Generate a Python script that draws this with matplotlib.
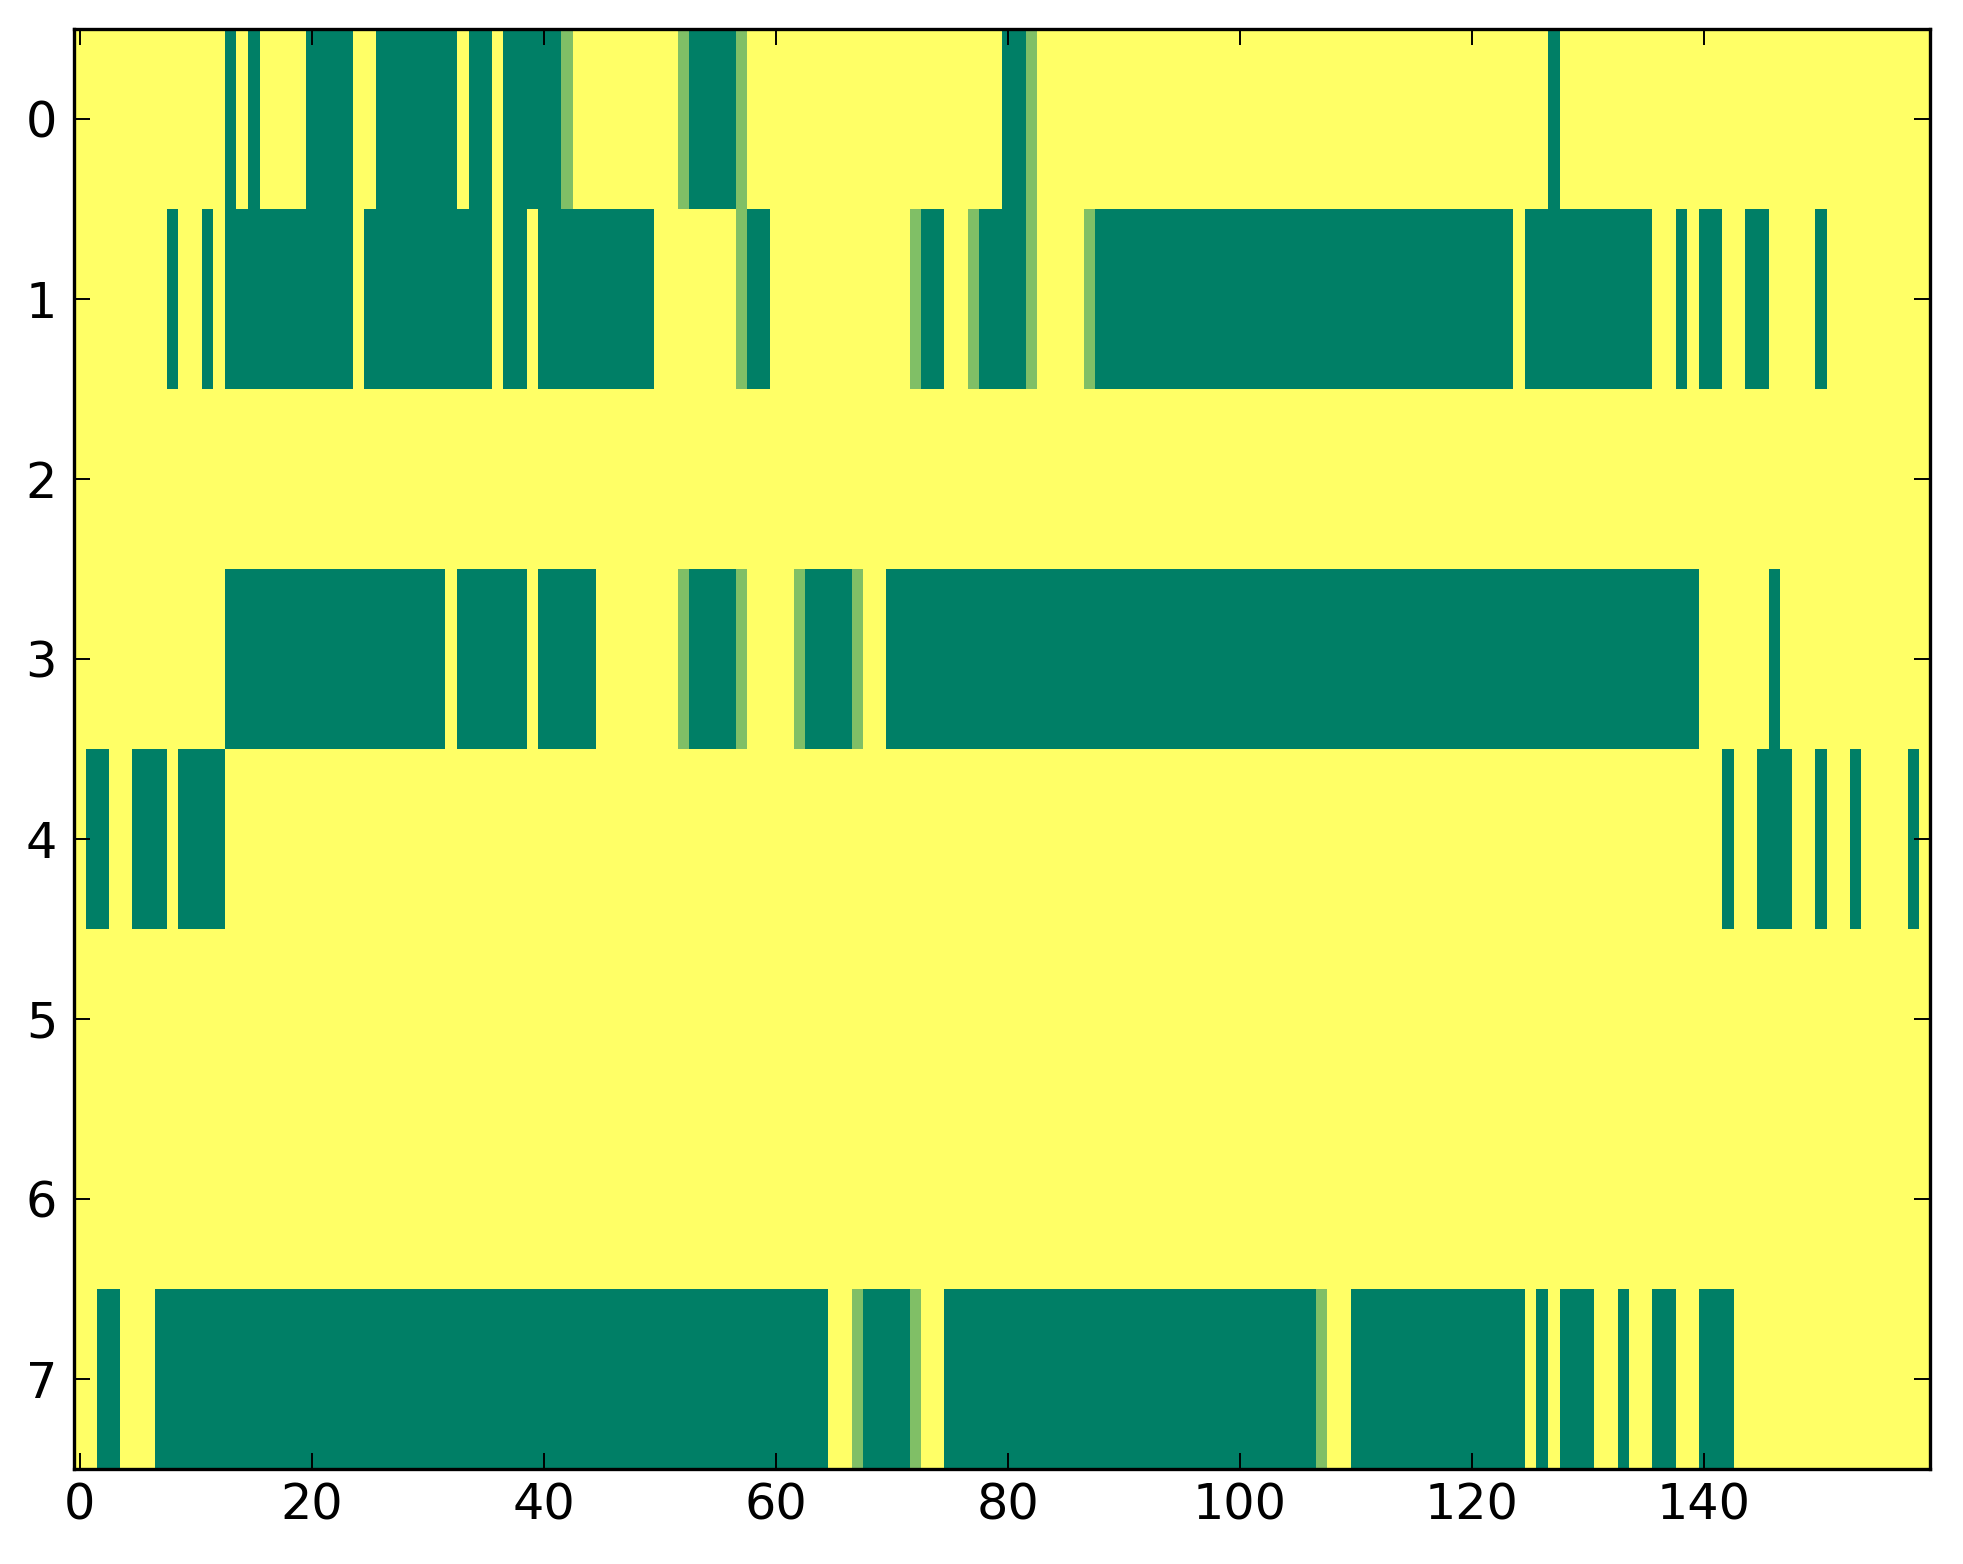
import numpy as np
import matplotlib
matplotlib.use("Agg")
import matplotlib.pyplot as plt
from matplotlib.ticker import MultipleLocator

n_rows = 8
n_cols = 160

# runs of columns (first, last) that are 0 (dark green) in each row
row0_zero = [(13, 13), (15, 15), (20, 23), (26, 32), (34, 35), (37, 41), (53, 56), (80, 81), (127, 127)]
row1_zero = [(8, 8), (11, 11), (13, 23), (25, 35), (37, 38), (40, 49), (58, 59), (73, 74), (78, 81),
             (88, 123), (125, 135), (138, 138), (140, 141), (144, 145), (150, 150)]
row2_zero = []
row3_zero = [(13, 31), (33, 38), (40, 44), (53, 56), (63, 66), (70, 139), (146, 146)]
row4_zero = [(1, 2), (5, 7), (9, 12), (142, 142), (145, 147), (150, 150), (153, 153), (158, 158)]
row5_zero = []
row6_zero = []
row7_zero = [(2, 3), (7, 64), (68, 71), (75, 106), (110, 124), (126, 126), (128, 130), (133, 133),
             (136, 137), (140, 142)]

# single columns with value 0.5 (light green)
row0_half = [42, 52, 57, 82]
row1_half = [57, 72, 77, 82, 87]
row3_half = [52, 57, 62, 67]
row7_half = [67, 72, 107]

zero_rows = [row0_zero, row1_zero, row2_zero, row3_zero, row4_zero, row5_zero, row6_zero, row7_zero]
half_rows = {0: row0_half, 1: row1_half, 3: row3_half, 7: row7_half}

grid = np.ones((n_rows, n_cols))
for r, runs in enumerate(zero_rows):
    for a, b in runs:
        grid[r, a:b + 1] = 0.0
for r, cols in half_rows.items():
    grid[r, cols] = 0.5

W, H, DPI = 1963, 1564, 100
fig = plt.figure(figsize=(W / DPI, H / DPI), dpi=DPI)
ax = fig.add_axes([73.7 / W, 1 - 1469 / H, (1930 - 73.7) / W, (1469 - 29) / H])

ax.imshow(grid, cmap="summer", vmin=0, vmax=1, aspect="auto", interpolation="nearest")

ax.xaxis.set_major_locator(MultipleLocator(20))
ax.yaxis.set_major_locator(MultipleLocator(1))
ax.tick_params(direction="in", top=True, right=True, length=11.8, width=1.4,
               labelsize=35.5)
ax.tick_params(axis="x", pad=9)
ax.tick_params(axis="y", pad=12)
for s in ax.spines.values():
    s.set_linewidth(2.4)

fig.savefig("out.png", dpi=DPI)
